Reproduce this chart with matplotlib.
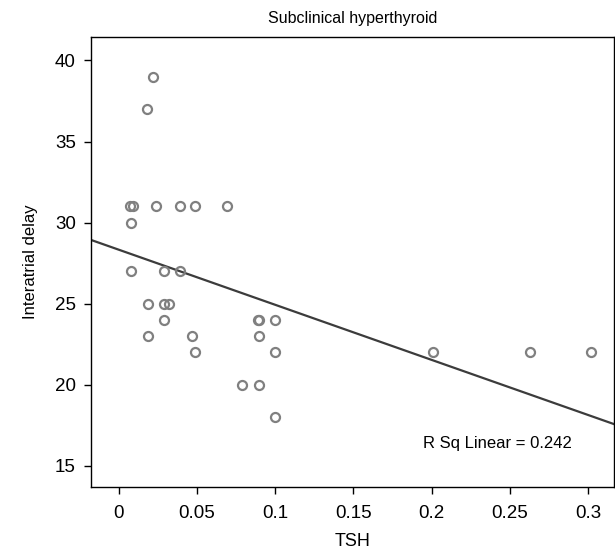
import numpy as np
import matplotlib
matplotlib.use("Agg")
import matplotlib.pyplot as plt

plt.rcParams['font.family'] = ['Liberation Sans Narrow', 'Liberation Sans', 'DejaVu Sans']

# TSH vs interatrial delay
tsh = [0.022, 0.018,
       0.007, 0.009, 0.024, 0.039, 0.049, 0.069,
       0.008,
       0.008, 0.029, 0.039,
       0.019, 0.029, 0.032,
       0.029, 0.089, 0.090, 0.100,
       0.019, 0.047, 0.090,
       0.049, 0.100, 0.201, 0.263, 0.302,
       0.079, 0.090,
       0.100]
delay = [39, 37,
         31, 31, 31, 31, 31, 31,
         30,
         27, 27, 27,
         25, 25, 25,
         24, 24, 24, 24,
         23, 23, 23,
         22, 22, 22, 22, 22,
         20, 20,
         18]

# fitted line as drawn in the picture
fit_intercept = 28.33
fit_slope = -34.0
r_sq = 0.242

x_ticks = [0, 0.05, 0.1, 0.15, 0.2, 0.25, 0.3]
x_labels = ['0', '0.05', '0.1', '0.15', '0.2', '0.25', '0.3']
y_ticks = [15, 20, 25, 30, 35, 40]

fig = plt.figure(figsize=(6.15, 5.49), dpi=100)
ax = fig.add_axes([0.148, 0.113, 0.85, 0.82])

xlim = (-0.0176, 0.3164)
ax.set_xlim(xlim)
ax.set_ylim(13.69, 41.46)

xs = np.array(xlim)
ax.plot(xs, fit_intercept + fit_slope * xs, color='#3c3c3c', lw=1.6, zorder=2)

ax.plot(tsh, delay, 'o', ms=6.5, mfc='none', mec='#808080', mew=1.6, zorder=3)

ax.text(0.242, 16.4, f'R Sq Linear = {r_sq}', fontsize=12, ha='center', va='center')

ax.set_xticks(x_ticks)
ax.set_xticklabels(x_labels)
ax.set_yticks(y_ticks)
ax.tick_params(direction='out', length=5, width=1, labelsize=13.5)
ax.tick_params(axis='x', pad=8)
ax.tick_params(axis='y', pad=6)

ax.set_xlabel('TSH', fontsize=13, labelpad=8)
ax.set_ylabel('Interatrial delay', fontsize=12, labelpad=12)
ax.set_title('Subclinical hyperthyroid', fontsize=11.5, pad=10)

for s in ax.spines.values():
    s.set_linewidth(1.0)

fig.savefig('out.png', dpi=100)
